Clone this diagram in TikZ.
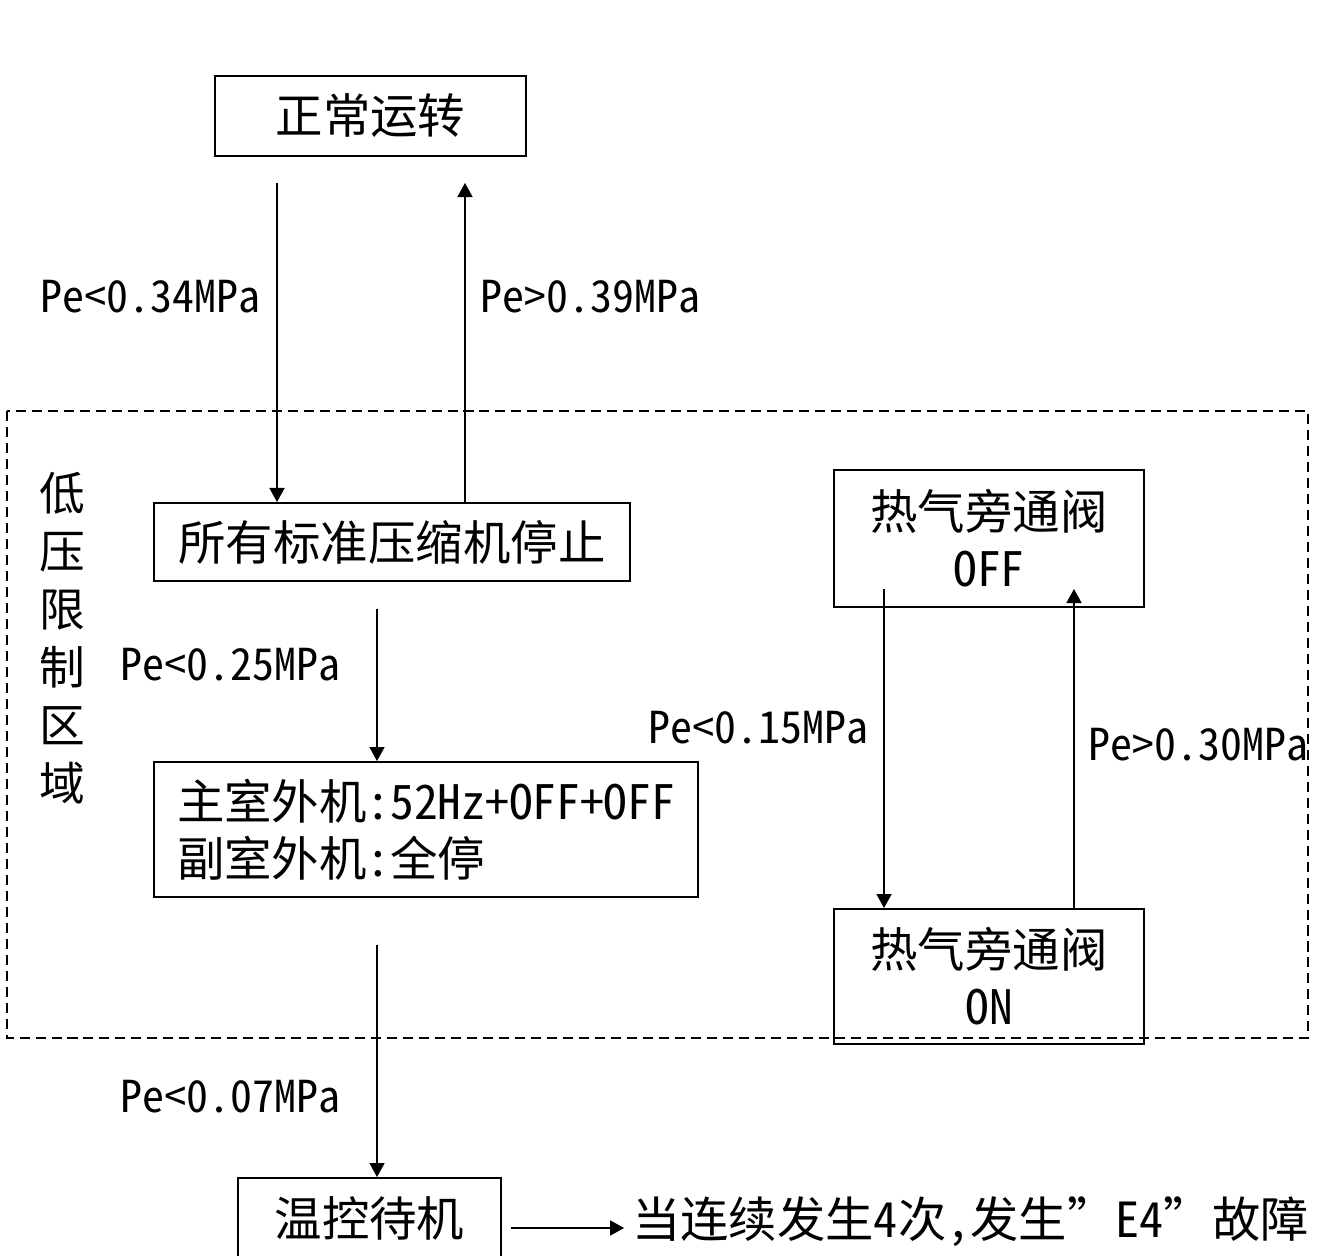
\documentclass[tikz,border=0pt]{standalone}
\usepackage{fontspec}
\setmainfont{Noto Sans CJK SC}[RawFeature=+hwid]
\usetikzlibrary{arrows.meta,positioning}

\begin{document}
\begin{tikzpicture}[x=0.02cm,y=-0.02cm,
      box/.style={draw,line width=1.1pt,inner sep=0pt,align=center,font=\fontsize{27}{32.3}\selectfont},
      cond/.style={anchor=west,inner sep=0pt,font=\fontsize{25}{28}\selectfont},
      arr/.style={-{Triangle[length=8pt,width=8.5pt]},line width=1.1pt}]
    \useasboundingbox (0,0) rectangle (1322,1255);
    \clip (0,0) rectangle (1322,1255);
    % low-pressure zone
    \draw[line width=1.1pt,dash pattern=on 5.7pt off 3.4pt] (7,411) rectangle (1308,1038);
    \node[align=center,inner sep=0pt,font=\fontsize{26}{33}\selectfont] (zone) at (62,638)
      {低\\压\\限\\制\\区\\域};
    % states
    \node[box,minimum width=6.22cm,minimum height=1.6cm] (run) at (370.5,116) {正常运转};
    \node[box,minimum width=9.52cm,minimum height=1.56cm] (stop) at (392,542) {所有标准压缩机停止};
    \node[box,align=left,text width=9.96cm,inner xsep=0.46cm,minimum height=2.7cm] (lim) at (426,829.5)
      {主室外机:52Hz+OFF+OFF\\副室外机:全停};
    \node[box,minimum width=5.26cm,minimum height=1.6cm] (wait) at (369.5,1218) {温控待机};
    \node[anchor=west,inner sep=0pt,font=\fontsize{27.5}{32}\selectfont] (note) at (632,1222)
      {当连续发生4次,发生”E4”故障};
    \node[box,minimum width=6.2cm,minimum height=2.74cm] (off) at (989,538.5) {热气旁通阀\\OFF};
    \node[box,minimum width=6.2cm,minimum height=2.7cm] (on) at (989,976.5) {热气旁通阀\\ON};
    % transitions
    \draw[arr] ([xshift=-1.87cm,yshift=-0.52cm]run.south) -- ([xshift=-1.87cm]run.south |- stop.north);
    \draw[arr] ([xshift=1.46cm]stop.north) -- ([xshift=1.89cm,yshift=-0.52cm]run.south);
    \draw[arr] ([xshift=-0.3cm,yshift=-0.54cm]stop.south) -- ([xshift=-0.3cm]stop.south |- lim.north);
    \draw[arr] ([xshift=-0.98cm,yshift=-0.94cm]lim.south) -- ([xshift=-0.98cm]lim.south |- wait.north);
    \draw[arr,shorten >=9.6pt] ([xshift=0.18cm,yshift=-0.2cm]wait.east) -- ([xshift=0.18cm,yshift=-0.2cm]wait.east -| note.west);
    \draw[arr] ([xshift=-2.1cm,yshift=0.38cm]off.south) -- ([xshift=-2.1cm]off.south |- on.north);
    \draw[arr] ([xshift=1.7cm]on.north) -- ([xshift=1.7cm,yshift=0.38cm]off.south);
    % conditions
    \node[cond] (c1) at (40,297) {Pe<0.34MPa};
    \node[cond] (c2) at (480,297) {Pe>0.39MPa};
    \node[cond] (c3) at (120,665) {Pe<0.25MPa};
    \node[cond] (c4) at (648,728) {Pe<0.15MPa};
    \node[cond] (c5) at (1088,745) {Pe>0.30MPa};
    \node[cond] (c6) at (120,1097) {Pe<0.07MPa};
  \end{tikzpicture}
\end{document}
